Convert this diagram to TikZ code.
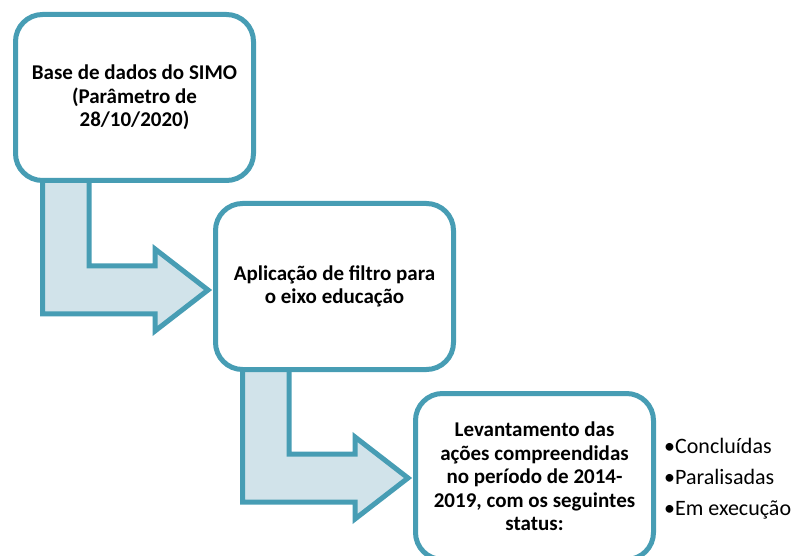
\documentclass[tikz,border=0pt]{standalone}
\usepackage{fontspec}
\setmainfont{Carlito}
\definecolor{tealline}{HTML}{479DB4}
\definecolor{lightfill}{HTML}{D1E3EA}
\begin{document}
\begin{tikzpicture}[x=1pt,y=-1pt,
  stepbox/.style={draw=tealline, line width=5pt, fill=white, rounded corners=27pt,
    minimum width=238pt, minimum height=166pt, align=center, inner sep=0pt,
    font=\bfseries\fontsize{21}{23.5}\selectfont},
  bendarrow/.pic={
    \draw[draw=tealline, line width=5pt, fill=lightfill, line join=miter]
      (42.5,170) -- (42.5,314) -- (155,314) -- (155,331) -- (208,290)
      -- (155,249) -- (155,266) -- (89,266) -- (89,170) -- cycle;
  }]
\useasboundingbox (0,0) rectangle (804,556);
\clip (0,0) rectangle (804,556);
\pic at (0,0) {bendarrow};
\pic at (200,188) {bendarrow};
\node[stepbox] (b1) at (134.5,97.5) {Base de dados do SIMO\\(Parâmetro de\\28/10/2020)};
\node[stepbox] (b2) at (334.5,286.5) {Aplicação de filtro para\\o eixo educação};
\node[stepbox] (b3) at (534.5,476.5) {Levantamento das\\ações compreendidas\\no período de 2014-\\2019, com os seguintes\\status:};
\node[anchor=west, inner sep=0pt, align=left, font=\fontsize{22}{31}\selectfont] (list) at (664,479)
  {•Concluídas\\•Paralisadas\\•Em execução};
\end{tikzpicture}
\end{document}
